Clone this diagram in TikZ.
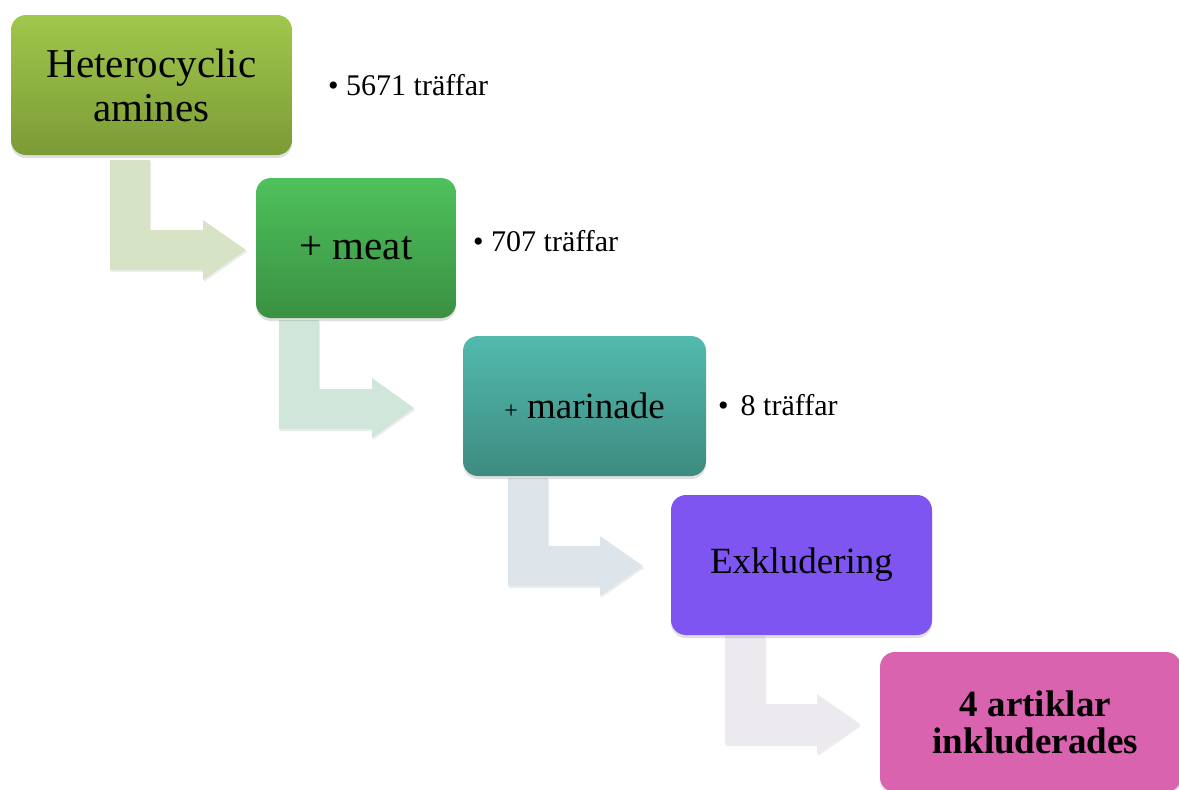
\documentclass[tikz,border=0pt]{standalone}
\usepackage{fontspec}
\setmainfont{Liberation Serif}
\usetikzlibrary{shadows}
\definecolor{cA}{HTML}{A1C74C}
\definecolor{cAb}{HTML}{7B9B36}
\definecolor{cB}{HTML}{4EC15C}
\definecolor{cBb}{HTML}{3A9041}
\definecolor{cC}{HTML}{52BAAE}
\definecolor{cCb}{HTML}{3E8B80}
\definecolor{cD}{HTML}{7F55F2}
\definecolor{cE}{HTML}{D963AF}
\definecolor{aA}{HTML}{D7E3C5}
\definecolor{aB}{HTML}{D1E6DB}
\definecolor{aC}{HTML}{DDE4EA}
\definecolor{aD}{HTML}{ECEAEF}
\begin{document}
\begin{tikzpicture}[x=1pt,y=-1pt,
  box/.style={rounded corners=15pt, minimum height=140pt, inner sep=0pt, align=center,
    drop shadow={opacity=0.25, shadow xshift=0pt, shadow yshift=-3pt}},
  bent/.style={fill=#1, draw=none,
    drop shadow={opacity=0.15, shadow xshift=1pt, shadow yshift=-2pt}},
  note/.style={font=\fontsize{30}{32}\selectfont, anchor=base west, inner sep=0pt},
  big/.style={font=\fontsize{41}{45}\selectfont},
  mid/.style={font=\fontsize{37}{37}\selectfont}]
\useasboundingbox (0,0) rectangle (1179,790);
% bent arrows (behind boxes)
\fill[bent=aA] (110,160) -- (150,160) -- (150,230) -- (203,230) -- (203,220) -- (246,250)
  -- (203,280) -- (203,270) -- (110,270) -- cycle;
\fill[bent=aB] (279,320) -- (319,320) -- (319,389) -- (372,389) -- (372,378) -- (414,408)
  -- (372,438) -- (372,429) -- (279,429) -- cycle;
\fill[bent=aC] (508,478) -- (548,478) -- (548,546) -- (600,546) -- (600,536) -- (643,566)
  -- (600,596) -- (600,586) -- (508,586) -- cycle;
\fill[bent=aD] (725,636) -- (765,636) -- (765,704) -- (817,704) -- (817,694) -- (860,724)
  -- (817,754) -- (817,744) -- (725,744) -- cycle;
% boxes
\node[box, big, minimum width=281pt, top color=cA, bottom color=cAb] (b1) at (151.5,85)
  {Heterocyclic\\[-1pt]amines};
\node[box, big, minimum width=200pt, top color=cB, bottom color=cBb] (b2) at (356,248)
  {+ meat};
\node[box, mid, minimum width=243pt, top color=cC, bottom color=cCb] (b3) at (584.5,406)
  {{\fontsize{24}{24}\selectfont +} marinade};
\node[box, mid, minimum width=261pt, fill=cD] (b4) at (801.5,565) {Exkludering};
\node[box, minimum width=301pt, fill=cE] (b5) at (1030.5,722) {};
\node[font=\fontsize{37}{37}\selectfont\bfseries, align=center, inner sep=0pt] (t5)
  at ([xshift=5pt]b5.center) {4 artiklar\\inkluderades};
% notes
\node[note] (n1) at (328,95) {\textbullet\ 5671 träffar};
\node[note] (n2) at (473,251) {\textbullet\ 707 träffar};
\node[note] (n3) at (718,415) {\textbullet\hspace{12pt}8 träffar};
\end{tikzpicture}
\end{document}
